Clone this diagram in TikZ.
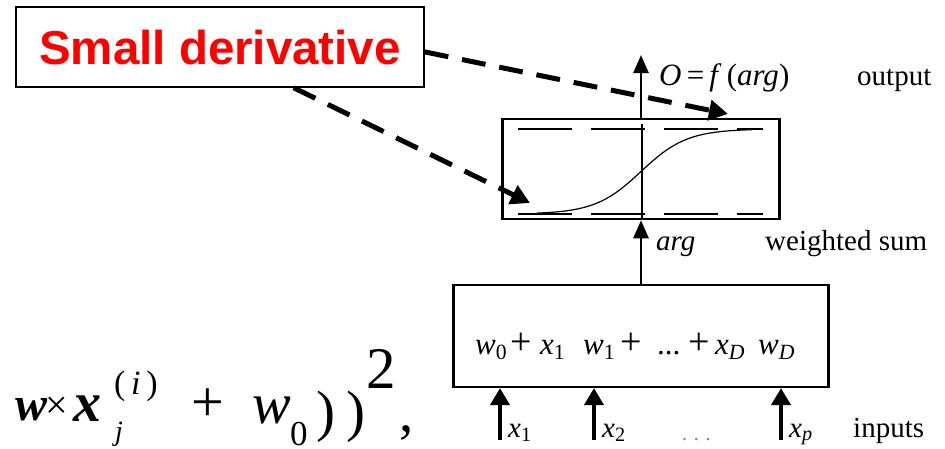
\documentclass[tikz,border=0pt]{standalone}
\usepackage{fontspec}
\setmainfont{Liberation Serif}
\newfontfamily\arialfont{Liberation Sans}
\usetikzlibrary{arrows.meta,calc}
\newcommand{\fsz}[1]{\fontsize{#1}{#1}\selectfont}
\newcommand{\at}[2]{\makebox[#1pt][l]{#2}}
\newcommand{\bplus}{{\fsz{38}+}}
\begin{document}
\begin{tikzpicture}[x=1pt,y=-1pt,
  sdbox/.style={draw, line width=1.5pt, minimum width=408pt, minimum height=80pt,
    inner sep=0pt, text=red, font={\arialfont\bfseries\fsz{47.5}},
    text height=34pt, text depth=0pt},
  sigbox/.style={draw, line width=2.5pt, minimum width=277pt, minimum height=100pt, inner sep=0pt},
  sumbox/.style={draw, line width=2.2pt, minimum width=375pt, minimum height=102pt, inner sep=0pt},
  lbl/.style={inner sep=0pt, anchor=base west, font={\fsz{29}}},
  fpart/.style={inner sep=0pt, anchor=base west},
  thinarrow/.style={line width=2.5pt, -{Triangle[length=18pt,width=15pt]}},
  inarrow/.style={line width=4pt, -{Triangle[length=17pt,width=19pt]}},
  callout/.style={line width=5pt, dash pattern=on 24pt off 14pt, -{Triangle[length=19pt,width=20pt]}},
  guide/.style={line width=1.2pt, dash pattern=on 54pt off 19pt},
]
\fill[white] (0,0) rectangle (945,448);
\useasboundingbox (0,0) rectangle (945,448);

% boxes
\node[sdbox] (sd) at (220,47) {Small derivative};
\node[sigbox] (sig) at (641,169) {};
\node[sumbox] (sum) at (641,336) {};
\node[lbl, font={\fsz{31}}] (sumtxt) at (475,354) {%
  \at{35}{\textit{w}\textsubscript{0}}\at{30}{\bplus}\at{43}{\textit{x}\textsubscript{1}}\at{37}{\textit{w}\textsubscript{1}}%
  \at{37}{\bplus}\at{31}{...}\at{27}{\bplus}\at{43}{\textit{x}\textsubscript{\textit{D}}}\textit{w}\textsubscript{\textit{D}}};

% sigmoid contents
\draw[guide] (518,129) -- (763,129);
\draw[guide] (518,214) -- (763,214);
\coordinate (vtop) at (642,124);
\draw[line width=1.2pt] (vtop) -- (vtop |- sig.south);
\draw[line width=1.2pt] plot[domain=537:752, samples=90] (\x, {171.5-42.5*tanh((\x-641)/46)});

% vertical arrows
\coordinate (outtip) at (641,55);
\draw[thinarrow] (sig.north) -- (outtip);
\draw[thinarrow] (sum.north) -- (sig.south);
\coordinate (in1) at (500,440);
\coordinate (in2) at (594,440);
\coordinate (inp) at (781,440);
\draw[inarrow] (in1) -- (in1 |- sum.south);
\draw[inarrow] (in2) -- (in2 |- sum.south);
\draw[inarrow] (inp) -- (inp |- sum.south);

% callout arrows
\coordinate (tipA) at (728,114);
\coordinate (tipB) at (530,203);
\draw[callout] ($(sd.north east)!0.56!(sd.south east)$) -- (tipA);
\draw[callout] ($(sd.south west)!0.68!(sd.south east)$) -- (tipB);

% labels
\node[lbl, font={\fsz{31}}] (outlbl) at (659,85) {\textit{O}\,=\,\textit{f}\,(\textit{arg})};
\node[lbl] (outword) at (857,85) {output};
\node[lbl] (arglbl) at (656,250) {\textit{arg}};
\node[lbl] (wsum) at (765,250) {weighted sum};
\node[lbl] (x1lbl) at (508,437) {\textit{x}\textsubscript{1}};
\node[lbl] (x2lbl) at (602,437) {\textit{x}\textsubscript{2}};
\node[lbl, text=gray, font={\fsz{20}}] (dots) at (682,440) {. . .};
\node[lbl] (xplbl) at (789,437) {\textit{x}\textsubscript{\textit{p}}};
\node[lbl] (inwd) at (853,437) {inputs};

% formula fragment
\node[fpart, font={\fsz{57}}] (f1) at (-19,430) {(};
\node[fpart, font={\fsz{48}}] (f2) at (15,420) {\textbf{\textit{w}}};
\node[fpart, font={\fsz{40}}] (f3) at (45,418) {×};
\node[fpart, font={\fsz{56}}] (f4) at (73,421) {\textbf{\textit{x}}};
\node[fpart, font={\fsz{34}}] (f5) at (114,394) {(\,\textit{i}\,)};
\node[fpart, font={\fsz{28}}] (f6) at (115,440) {\textit{j}};
\node[fpart, font={\fsz{58}}] (f7) at (191,421) {+};
\node[fpart, font={\fsz{58}}] (f8) at (252,423) {\textit{w}};
\node[fpart, font={\fsz{35}}] (f9) at (290,445) {0};
\node[fpart, font={\fsz{57}}] (f10) at (316,430) {)\hspace{11pt})};
\node[fpart, font={\fsz{59}}] (f11) at (366,388) {2};
\node[fpart, font={\fsz{57}}] (f12) at (399,431) {,};
\end{tikzpicture}
\end{document}
